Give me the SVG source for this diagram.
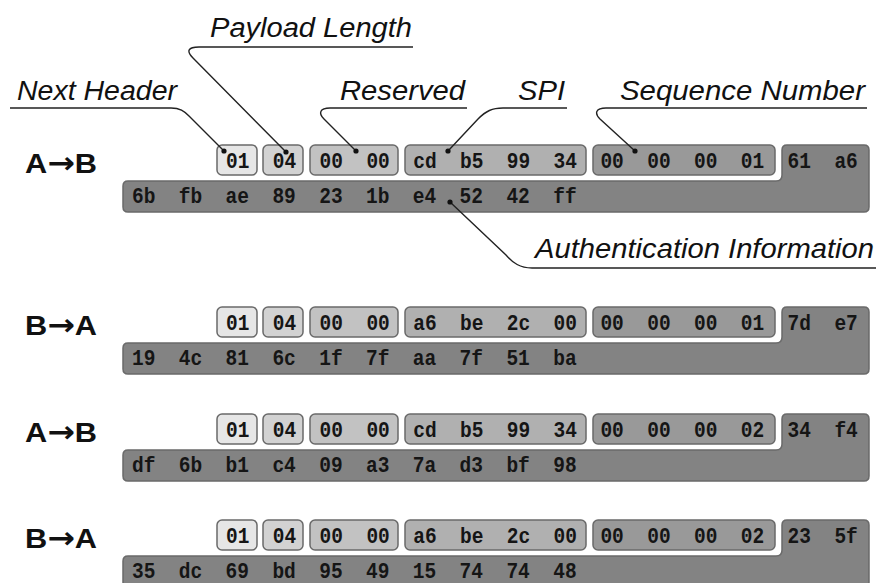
<svg xmlns="http://www.w3.org/2000/svg" width="876" height="583" viewBox="0 0 876 583">
<style>
.b{stroke:#6a6a6a;stroke-width:1.5}
.c1{fill:#e6e6e6}.c2{fill:#d2d2d2}.c3{fill:#c2c2c2}.c4{fill:#b0b0b0}.c5{fill:#999999}.c6{fill:#838383}
.m{font-family:"Liberation Mono","DejaVu Sans Mono",monospace;font-weight:bold;font-size:21.5px;fill:#151515;white-space:pre}
.d{font-family:"Liberation Sans",Arial,sans-serif;font-weight:bold;font-size:28px;fill:#111}
.ar{font-family:"DejaVu Sans",sans-serif;font-weight:bold;font-size:30px}
.l{font-family:"Liberation Sans",Arial,sans-serif;font-style:italic;font-size:27px;fill:#111}
.ld{fill:none;stroke:#222;stroke-width:1.4}
.dot{fill:#111}
</style>
<defs>
<g id="hdr">
<rect class="b c1" x="217" y="145" width="40" height="30" rx="5"/>
<rect class="b c2" x="263" y="145" width="40" height="30" rx="5"/>
<rect class="b c3" x="310" y="145" width="88" height="30" rx="5"/>
<rect class="b c4" x="405" y="145" width="181" height="30" rx="5"/>
<rect class="b c5" x="593" y="145" width="182" height="30" rx="5"/>
<path class="b c6" d="M128 181 H776 Q782 181 782 175 V150 Q782 145 787 145 H864 Q869 145 869 150 V207 Q869 212 864 212 H128 Q123 212 123 207 V186 Q123 181 128 181 Z"/>
<text class="m" x="226" y="168" textLength="23.4" lengthAdjust="spacingAndGlyphs">01</text>
<text class="m" x="272.8" y="168" textLength="23.4" lengthAdjust="spacingAndGlyphs">04</text>
<text class="m" x="319.6" y="168" xml:space="preserve" textLength="70.2" lengthAdjust="spacingAndGlyphs">00  00</text>
</g>
</defs>

<g id="labels">
<text class="l" x="210" y="37" textLength="202" lengthAdjust="spacingAndGlyphs">Payload Length</text>
<text class="l" x="17" y="100" textLength="160" lengthAdjust="spacingAndGlyphs">Next Header</text>
<text class="l" x="340" y="100" textLength="125" lengthAdjust="spacingAndGlyphs">Reserved</text>
<text class="l" x="518" y="100" textLength="47" lengthAdjust="spacingAndGlyphs">SPI</text>
<text class="l" x="620" y="100" textLength="245" lengthAdjust="spacingAndGlyphs">Sequence Number</text>
<text class="l" x="535" y="258" textLength="339" lengthAdjust="spacingAndGlyphs">Authentication Information</text>
</g>

<g id="row1">
<use href="#hdr"/>
<text class="d" x="25" y="173" textLength="72" lengthAdjust="spacingAndGlyphs">A<tspan class="ar">→</tspan>B</text>
<g id="r1-spi"><text class="m" x="413.2" y="168" xml:space="preserve" textLength="163.8" lengthAdjust="spacingAndGlyphs">cd  b5  99  34</text></g>
<g id="r1-seq"><text class="m" x="600.4" y="168" xml:space="preserve" textLength="163.8" lengthAdjust="spacingAndGlyphs">00  00  00  01</text></g>
<g id="r1-auth"><text class="m" x="787.6" y="168" xml:space="preserve" textLength="70.2" lengthAdjust="spacingAndGlyphs">61  a6</text>
<text class="m" x="132" y="203" xml:space="preserve" textLength="444.6" lengthAdjust="spacingAndGlyphs">6b  fb  ae  89  23  1b  e4  52  42  ff</text></g>
</g>

<g id="row2" transform="translate(0,162)">
<use href="#hdr"/>
<text class="d" x="25" y="173" textLength="72" lengthAdjust="spacingAndGlyphs">B<tspan class="ar">→</tspan>A</text>
<g id="r2-spi"><text class="m" x="413.2" y="168" xml:space="preserve" textLength="163.8" lengthAdjust="spacingAndGlyphs">a6  be  2c  00</text></g>
<g id="r2-seq"><text class="m" x="600.4" y="168" xml:space="preserve" textLength="163.8" lengthAdjust="spacingAndGlyphs">00  00  00  01</text></g>
<g id="r2-auth"><text class="m" x="787.6" y="168" xml:space="preserve" textLength="70.2" lengthAdjust="spacingAndGlyphs">7d  e7</text>
<text class="m" x="132" y="203" xml:space="preserve" textLength="444.6" lengthAdjust="spacingAndGlyphs">19  4c  81  6c  1f  7f  aa  7f  51  ba</text></g>
</g>

<g id="row3" transform="translate(0,269)">
<use href="#hdr"/>
<text class="d" x="25" y="173" textLength="72" lengthAdjust="spacingAndGlyphs">A<tspan class="ar">→</tspan>B</text>
<g id="r3-spi"><text class="m" x="413.2" y="168" xml:space="preserve" textLength="163.8" lengthAdjust="spacingAndGlyphs">cd  b5  99  34</text></g>
<g id="r3-seq"><text class="m" x="600.4" y="168" xml:space="preserve" textLength="163.8" lengthAdjust="spacingAndGlyphs">00  00  00  02</text></g>
<g id="r3-auth"><text class="m" x="787.6" y="168" xml:space="preserve" textLength="70.2" lengthAdjust="spacingAndGlyphs">34  f4</text>
<text class="m" x="132" y="203" xml:space="preserve" textLength="444.6" lengthAdjust="spacingAndGlyphs">df  6b  b1  c4  09  a3  7a  d3  bf  98</text></g>
</g>

<g id="row4" transform="translate(0,375)">
<use href="#hdr"/>
<text class="d" x="25" y="173" textLength="72" lengthAdjust="spacingAndGlyphs">B<tspan class="ar">→</tspan>A</text>
<g id="r4-spi"><text class="m" x="413.2" y="168" xml:space="preserve" textLength="163.8" lengthAdjust="spacingAndGlyphs">a6  be  2c  00</text></g>
<g id="r4-seq"><text class="m" x="600.4" y="168" xml:space="preserve" textLength="163.8" lengthAdjust="spacingAndGlyphs">00  00  00  02</text></g>
<g id="r4-auth"><text class="m" x="787.6" y="168" xml:space="preserve" textLength="70.2" lengthAdjust="spacingAndGlyphs">23  5f</text>
<text class="m" x="132" y="203" xml:space="preserve" textLength="444.6" lengthAdjust="spacingAndGlyphs">35  dc  69  bd  95  49  15  74  74  48</text></g>
</g>

<g id="connectors">
<path class="ld" d="M10 108 H171 C180 108 184 111 189 116 L224 151"/>
<path class="ld" d="M413 47 H199 C188 47 186 51 193 58 L286 152"/>
<path class="ld" d="M467 108 H330 C320 108 318 113 324 119 L356 151"/>
<path class="ld" d="M567 108 H503 C492 108 486 111 478 119 L448 151"/>
<path class="ld" d="M867 108 H606 C596 108 594 113 600 119 L635 151"/>
<path class="ld" d="M450 202 L506 255 C513 263 520 268 532 268 H876"/>
<circle class="dot" cx="224" cy="151" r="2.6"/>
<circle class="dot" cx="286" cy="152" r="2.6"/>
<circle class="dot" cx="356" cy="151" r="2.6"/>
<circle class="dot" cx="448" cy="151" r="2.6"/>
<circle class="dot" cx="635" cy="151" r="2.6"/>
<circle class="dot" cx="450" cy="202" r="2.6"/>
</g>
</svg>
